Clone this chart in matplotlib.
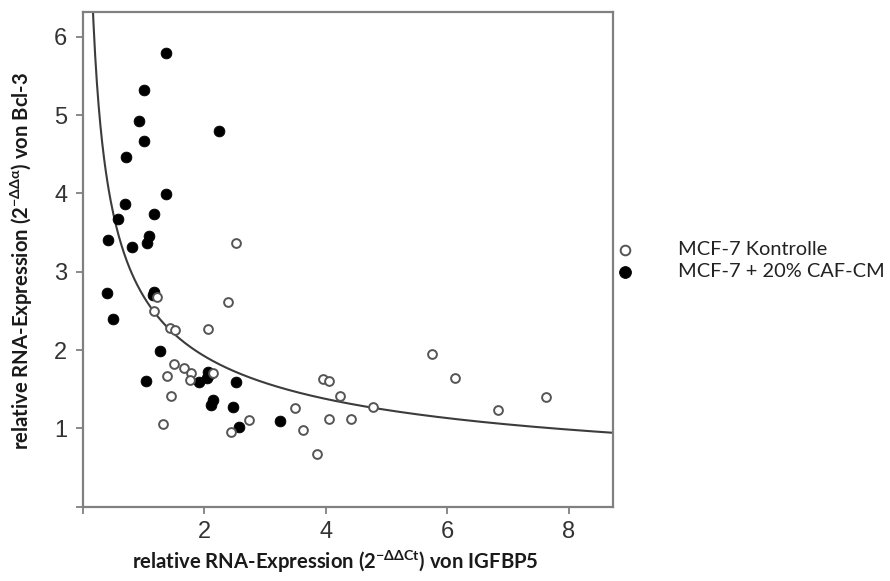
import matplotlib
matplotlib.use("Agg")
import matplotlib.pyplot as plt
import numpy as np

# IGFBP5 (x) and Bcl-3 (y) relative expression, control cells
ctrl_igfbp5 = [2.52, 1.23, 2.39, 1.17, 1.44, 1.52, 2.06, 1.51, 1.66, 1.79,
               1.77, 1.39, 2.15, 1.45, 1.32, 2.44, 2.73, 3.49, 3.63, 3.86,
               3.95, 4.06, 4.23, 4.05, 4.42, 4.77, 5.74, 6.13, 6.84, 7.62]
ctrl_bcl3 = [3.37, 2.68, 2.62, 2.50, 2.28, 2.26, 2.27, 1.82, 1.77, 1.71,
             1.62, 1.67, 1.71, 1.41, 1.06, 0.96, 1.11, 1.26, 0.98, 0.68,
             1.63, 1.60, 1.42, 1.12, 1.12, 1.28, 1.95, 1.65, 1.23, 1.40]

# cells treated with 20% CAF-conditioned medium
caf_igfbp5 = [1.37, 1.01, 0.93, 1.01, 2.24, 0.71, 1.37, 0.69, 1.18, 0.59,
              1.10, 1.06, 0.41, 0.81, 0.40, 1.17, 1.15, 0.50, 1.27, 1.05,
              1.92, 2.07, 2.10, 2.04, 2.52, 2.14, 2.11, 2.48, 2.57, 3.25]
caf_bcl3 = [5.79, 5.32, 4.92, 4.67, 4.80, 4.47, 3.99, 3.87, 3.74, 3.68,
            3.46, 3.37, 3.41, 3.32, 2.73, 2.74, 2.70, 2.40, 1.99, 1.60,
            1.59, 1.72, 1.70, 1.64, 1.59, 1.36, 1.30, 1.27, 1.02, 1.09]

# power-law fit y = a * x**b
fit_a = 2.69
fit_b = -0.483

series_labels = ["MCF-7 Kontrolle", "MCF-7 + 20% CAF-CM"]
x_ticks = [0, 2, 4, 6, 8]
x_ticklabels = ["", "2", "4", "6", "8"]
y_ticks = [0, 1, 2, 3, 4, 5, 6]
y_ticklabels = ["", "1", "2", "3", "4", "5", "6"]

W, H = 890, 581
fig = plt.figure(figsize=(W / 100, H / 100), dpi=100)
ax = fig.add_axes([82.6 / W, 1 - 506.8 / H, (612.7 - 82.6) / W, (506.8 - 11.7) / H])

filled = ax.scatter(caf_igfbp5, caf_bcl3, s=60, facecolor="black",
                    edgecolor="black", linewidths=0.6, zorder=3)
hollow = ax.scatter(ctrl_igfbp5, ctrl_bcl3, s=40, facecolor="white",
                    edgecolor="#555555", linewidths=1.4, zorder=4)

xs = np.linspace(0.12, 8.72, 600)
ax.plot(xs, fit_a * xs ** fit_b, color="#3c3c3c", lw=1.5, zorder=2)

ax.set_xlim(0, 8.72)
ax.set_ylim(0, 6.32)
ax.set_xticks(x_ticks)
ax.set_xticklabels(x_ticklabels)
ax.set_yticks(y_ticks)
ax.set_yticklabels(y_ticklabels)

for sp in ax.spines.values():
    sp.set_color("#808080")
    sp.set_linewidth(1.6)
ax.tick_params(axis="both", direction="out", length=5, width=1.3,
               color="#808080", labelcolor="#333333", labelsize=17)
ax.tick_params(axis="x", pad=5)
ax.tick_params(axis="y", pad=6)
for lab in ax.get_xticklabels() + ax.get_yticklabels():
    lab.set_family("Liberation Sans")

label_font = dict(family="Lato", weight="bold", size=14.6, color="#1a1a1a")
fig.text(335 / W, 1 - 562 / H,
         r"relative RNA-Expression (2$^{\mathregular{-ΔΔCt}}$) von IGFBP5",
         ha="center", va="center", **label_font)
fig.text(21.5 / W, 1 - 261 / H,
         r"relative RNA-Expression (2$^{\mathregular{-ΔΔα}}$) von Bcl-3",
         ha="center", va="center", rotation=90, **label_font)

leg_size = 14.4
em = leg_size * 100 / 72
leg = ax.legend([hollow, filled], series_labels, loc="center left",
                bbox_to_anchor=(616 / W, 1 - 261 / H),
                bbox_transform=fig.transFigure, frameon=False,
                borderpad=0, borderaxespad=0, handlelength=18 / em,
                handletextpad=44 / em, labelspacing=0.25,
                markerscale=1.1,
                prop=dict(family="Lato", size=leg_size))
for t in leg.get_texts():
    t.set_color("#222222")

fig.savefig("out.png", dpi=100)
